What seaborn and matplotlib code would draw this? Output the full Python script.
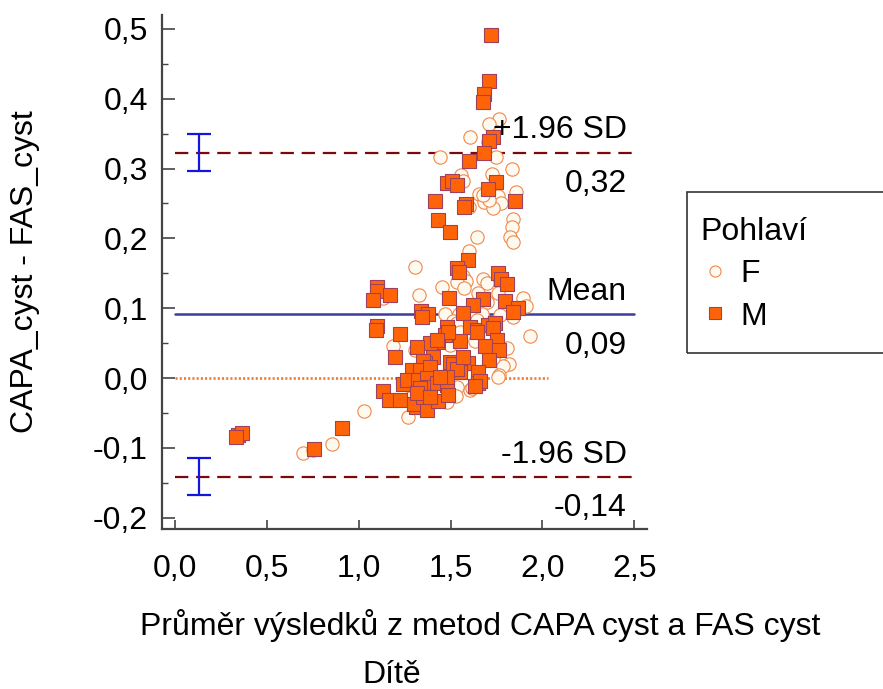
import matplotlib
matplotlib.use("Agg")
import matplotlib.pyplot as plt
from matplotlib.lines import Line2D
from matplotlib.patches import Rectangle
from matplotlib.ticker import MultipleLocator, FuncFormatter
import seaborn as sns
import pandas as pd

# ---------------- data ----------------
m_x = [1.720, 1.709, 1.682, 1.677, 1.731, 1.709, 1.682, 1.601, 1.747, 1.481,
       1.508, 1.535, 1.704, 1.851, 1.415, 1.584, 1.573, 1.432, 1.497, 1.595,
       1.535, 1.546, 1.758, 1.775, 1.807, 1.100, 1.100, 1.078, 1.170, 1.492,
       1.677, 1.796, 1.867, 1.622, 1.840, 1.339, 1.377, 1.345, 1.568, 1.100,
       1.225, 1.606, 1.644, 1.481, 1.470, 1.704, 1.742, 1.731, 1.551, 1.753,
       1.688, 1.432, 1.388, 1.317, 1.198, 1.486, 1.644, 1.764, 1.709, 1.405,
       1.361, 1.350, 1.290, 1.334, 1.388, 1.497, 1.513, 1.568, 1.595, 1.551,
       1.535, 1.649, 1.649, 1.660, 1.633, 1.241, 1.263, 1.323, 1.372, 1.377,
       1.426, 1.481, 1.481, 1.443, 1.334, 1.132, 1.165, 1.225, 1.312, 1.301,
       1.372, 1.432, 0.909, 1.350, 1.486, 0.343, 0.365, 0.332, 0.757, 1.568,
       1.426, 1.317, 1.388, 1.094]
m_y = [0.491, 0.426, 0.407, 0.395, 0.345, 0.340, 0.322, 0.311, 0.281, 0.279,
       0.282, 0.277, 0.271, 0.254, 0.254, 0.249, 0.245, 0.226, 0.209, 0.169,
       0.158, 0.152, 0.150, 0.142, 0.135, 0.130, 0.125, 0.112, 0.119, 0.115,
       0.113, 0.110, 0.100, 0.105, 0.095, 0.096, 0.092, 0.087, 0.093, 0.075,
       0.063, 0.073, 0.069, 0.073, 0.062, 0.076, 0.079, 0.072, 0.053, 0.054,
       0.046, 0.052, 0.050, 0.044, 0.030, 0.066, 0.066, 0.040, 0.026, 0.030,
       0.021, 0.024, 0.011, 0.011, 0.016, 0.023, 0.020, 0.021, 0.021, 0.009,
       0.013, 0.009, -0.007, -0.004, -0.011, -0.009, -0.003, -0.003, 0.000, -0.013,
       -0.007, -0.010, 0.001, 0.001, -0.014, -0.019, -0.032, -0.032, -0.042, -0.037,
       -0.046, -0.033, -0.072, -0.027, -0.024, -0.082, -0.079, -0.085, -0.102, 0.030,
       0.054, -0.021, -0.027, 0.069]

f_x = [1.764, 1.709, 1.606, 1.704, 1.443, 1.747, 1.835, 1.726, 1.557, 1.568,
       1.856, 1.655, 1.682, 1.758, 1.775, 1.731, 1.601, 1.840, 1.835, 1.824,
       1.840, 1.644, 1.601, 1.306, 1.568, 1.584, 1.535, 1.573, 1.453, 1.677,
       1.698, 1.758, 1.649, 1.132, 1.328, 1.698, 1.894, 1.911, 1.470, 1.546,
       1.622, 1.671, 1.769, 1.840, 1.513, 1.644, 1.562, 1.535, 1.933, 1.633,
       1.497, 1.187, 1.306, 1.807, 1.818, 1.786, 1.764, 1.731, 1.606, 1.606,
       1.535, 1.530, 1.279, 1.383, 1.481, 1.268, 1.029, 0.697, 0.751, 0.855,
       1.709, 1.677, 1.551, 1.617, 1.758]
f_y = [0.371, 0.364, 0.345, 0.338, 0.317, 0.317, 0.299, 0.292, 0.291, 0.282,
       0.266, 0.264, 0.252, 0.261, 0.251, 0.244, 0.245, 0.228, 0.216, 0.202,
       0.195, 0.202, 0.182, 0.159, 0.146, 0.139, 0.138, 0.129, 0.130, 0.142,
       0.136, 0.122, 0.122, 0.115, 0.119, 0.109, 0.115, 0.103, 0.092, 0.092,
       0.092, 0.092, 0.090, 0.087, 0.082, 0.083, 0.069, 0.079, 0.060, 0.053,
       0.047, 0.046, 0.040, 0.043, 0.020, 0.017, 0.004, 0.029, 0.007, -0.017,
       -0.013, -0.026, -0.029, -0.037, -0.034, -0.056, -0.047, -0.107, -0.103, -0.095,
       0.255, 0.262, 0.066, -0.014, 0.001]

mean_diff = 0.091
upper_loa = 0.323
lower_loa = -0.142
upper_ci = [0.297, 0.350]
lower_ci = [-0.168, -0.115]
ci_x = 0.13
line_label_top = ["+1.96 SD", "Mean", "-1.96 SD"]
line_label_val = ["0,32", "0,09", "-0,14"]

df = pd.DataFrame({
    "avg": f_x + m_x,
    "diff": f_y + m_y,
    "Pohlaví": ["F"] * len(f_x) + ["M"] * len(m_x),
})

# ---------------- style ----------------
sns.set_theme(style="white")
plt.rcParams["font.family"] = ["Liberation Sans", "DejaVu Sans"]
plt.rcParams["text.color"] = "black"
FS = 23

sq_face, sq_edge = "#FF6308", "#A0405A"
ci_face, ci_edge = "#FFFAF0", "#F0884A"

fig = plt.figure(figsize=(8.83, 6.89), dpi=100)
ax = fig.add_axes([162 / 883, 1 - 529 / 689, (647 - 162) / 883, (529 - 15) / 689])

sns.scatterplot(data=df[df["Pohlaví"] == "F"], x="avg", y="diff", marker="o",
                s=92, color=ci_face, edgecolor=ci_edge, linewidth=0.8, ax=ax,
                legend=False, zorder=3)
sns.scatterplot(data=df[df["Pohlaví"] == "M"], x="avg", y="diff", marker="s",
                s=98, color=sq_face, edgecolor=sq_edge, linewidth=0.8, ax=ax,
                legend=False, zorder=4)

# reference lines
ax.plot([0, 2.5], [upper_loa, upper_loa], color="#7A0A0A", lw=1.6,
        dashes=(6, 3.5), zorder=2)
ax.plot([0, 2.5], [lower_loa, lower_loa], color="#7A0A0A", lw=1.6,
        dashes=(6, 3.5), zorder=2)
ax.plot([0, 2.5], [mean_diff, mean_diff], color="#3C3CA0", lw=1.8, zorder=2)
ax.plot([0, 2.03], [0, 0], color="#F07830", lw=1.9, linestyle=(0, (0.8, 0.8)), zorder=1)

# confidence interval bars
for lo, hi in (upper_ci, lower_ci):
    mid = (lo + hi) / 2
    ax.errorbar([ci_x], [mid], yerr=[[mid - lo], [hi - mid]], fmt="none",
                ecolor="#1515E0", elinewidth=1.6, capsize=8.5, capthick=1.6)

# labels on the lines
for val, top, bot in zip([upper_loa, mean_diff, lower_loa], line_label_top, line_label_val):
    ax.annotate(top, xy=(2.46, val), xytext=(0, 16), textcoords="offset points",
                ha="right", va="center", fontsize=FS, color="black")
    ax.annotate(bot, xy=(2.46, val), xytext=(0, -22.5), textcoords="offset points",
                ha="right", va="center", fontsize=FS, color="black")

ax.set_xlim(-0.0708, 2.569)
ax.set_ylim(-0.2163, 0.520)

ax.yaxis.set_minor_locator(MultipleLocator(0.05))
fmt = FuncFormatter(lambda v, p: f"{v:.1f}".replace(".", ",").replace("-0,0", "0,0"))
ax.xaxis.set_major_formatter(fmt)
ax.yaxis.set_major_formatter(fmt)
ax.set_xticks([0, 0.5, 1.0, 1.5, 2.0, 2.5])
ax.set_yticks([-0.2, -0.1, 0, 0.1, 0.2, 0.3, 0.4, 0.5])

for s in ["top", "right"]:
    ax.spines[s].set_visible(False)
for s in ["left", "bottom"]:
    ax.spines[s].set_color("#444444")
    ax.spines[s].set_linewidth(1.6)

ax.tick_params(axis="y", which="major", direction="in", length=9, width=1.2,
               color="#444444", labelsize=FS, pad=10, left=True, labelcolor="black")
ax.tick_params(axis="y", which="minor", direction="in", length=4.5, width=1.0,
               color="#444444", left=True)
ax.tick_params(axis="x", which="major", direction="in", length=6.5, width=1.2,
               color="#444444", labelsize=FS, pad=18, bottom=True, labelcolor="black")

ax.set_xlabel("")
ax.set_ylabel("")
fig.text(25 / 883, 1 - 272 / 689, "CAPA_cyst - FAS_cyst", rotation=90,
         ha="center", va="center", fontsize=FS)
fig.text(480 / 883, 1 - 625 / 689, "Průměr výsledků z metod CAPA cyst a FAS cyst",
         ha="center", va="center", fontsize=FS)
fig.text(392 / 883, 1 - 675 / 689, "Dítě", ha="center", va="center", fontsize=FS)

# legend
handles = [
    Line2D([], [], marker="o", linestyle="none", markersize=8,
           markerfacecolor=ci_face, markeredgecolor=ci_edge, markeredgewidth=0.8),
    Line2D([], [], marker="s", linestyle="none", markersize=8,
           markerfacecolor=sq_face, markeredgecolor=sq_edge, markeredgewidth=0.8),
]
leg = fig.legend(handles, ["F", "M"], title="Pohlaví", loc="upper left",
                 bbox_to_anchor=(678 / 883, 1 - 195 / 689), frameon=False,
                 fontsize=FS, title_fontsize=FS, alignment="left",
                 handletextpad=0.35, labelspacing=0.38, handlelength=0.9,
                 borderpad=0.2)
for t in leg.get_texts():
    t.set_color("black")
leg.get_title().set_color("black")
fig.patches.append(Rectangle((687 / 883, 1 - 353 / 689), (900 - 687) / 883,
                             (353 - 192) / 689, transform=fig.transFigure,
                             fill=False, edgecolor="#333333", lw=1.2))

fig.savefig("out.png", dpi=100, facecolor="white")
